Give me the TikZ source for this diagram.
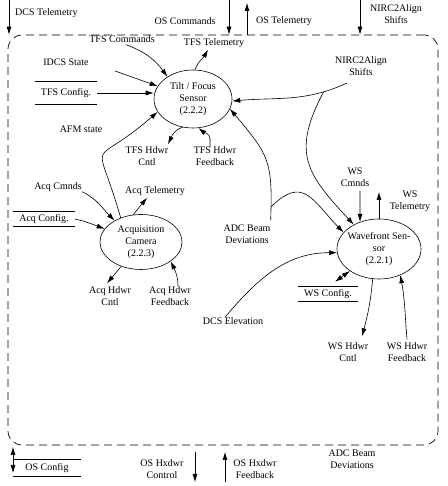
\documentclass[tikz,border=0pt]{standalone}
\usepackage{fontspec}
\setmainfont{Liberation Serif}
\usetikzlibrary{shapes.geometric, arrows.meta}
\tikzset{proc/.style={ellipse, draw=black, line width=0.6pt, inner sep=0pt, font={\fontsize{10}{12}\selectfont}, align=center},
        lab/.style={font={\fontsize{10}{12}\selectfont}, align=center, inner sep=0pt},
        store/.style={font={\fontsize{10}{12}\selectfont}, align=center, inner sep=0pt, minimum width=62pt},
        fl/.style={line width=0.6pt, -{Latex[length=8pt, width=5pt]}},
        bfl/.style={line width=0.6pt, {Latex[length=8pt, width=5pt]}-{Latex[length=8pt, width=5pt]}}}

\begin{document}
\begin{tikzpicture}[x=1pt, y=1pt]
    \useasboundingbox (0,0) rectangle (447,486);

    % context boundary
    \node[draw, line width=0.7pt, dash pattern=on 8pt off 5pt, rounded corners=14pt, minimum width=430pt, minimum height=410pt, inner sep=0pt] (ctx) at (223,246) {};

    % processes
    \node[proc, minimum width=78pt, minimum height=58pt] (tfs) at (193,387) {Tilt / Focus\\Sensor\\(2.2.2)};
    \node[proc, minimum width=82pt, minimum height=55pt] (acq) at (141,244) {Acquisition\\Camera\\(2.2.3)};
    \node[proc, minimum width=84pt, minimum height=60pt, inner xsep=-10pt] (ws) at (379,237) {Wavefront Sen-\\sor\\(2.2.1)};

    % flow labels
    \node[lab, anchor=west] (dcstel) at (15,473) {DCS Telemetry};
    \node[lab] (oscmd) at (185,465) {OS Commands};
    \node[lab] (ostel) at (284,465) {OS Telemetry};
    \node[lab] (nirout) at (396,472) {NIRC2Align\\Shifts};
    \node[lab] (tfscmd) at (122,447) {TFS Commands};
    \node[lab] (tfstel) at (214,443) {TFS Telemetry};
    \node[lab] (idcs) at (66,424) {IDCS State};
    \node[lab] (afm) at (81,357) {AFM state};
    \node[lab] (tfshc) at (147,330) {TFS Hdwr\\Cntl};
    \node[lab] (tfshf) at (215,330) {TFS Hdwr\\Feedback};
    \node[lab] (nirin) at (361,420) {NIRC2Align\\Shifts};
    \node[lab] (adc) at (247,252) {ADC Beam\\Deviations};
    \node[lab] (dcsel) at (233,165) {DCS Elevation};
    \node[lab] (acqcmd) at (58,299) {Acq Cmnds};
    \node[lab] (acqtel) at (155,295) {Acq Telemetry};
    \node[lab] (acqhc) at (110,190) {Acq Hdwr\\Cntl};
    \node[lab] (acqhf) at (170,190) {Acq Hdwr\\Feedback};
    \node[lab] (wscmd) at (355,309) {WS\\Cmnds};
    \node[lab] (wstel) at (410,285) {WS\\Telemetry};
    \node[lab] (wshc) at (348,134) {WS Hdwr\\Cntl};
    \node[lab] (wshf) at (407,134) {WS Hdwr\\Feedback};
    \node[lab] (oshc) at (162,17) {OS Hxdwr\\Control};
    \node[lab] (oshf) at (255,17) {OS Hxdwr\\Feedback};
    \node[lab] (adcout) at (352,27) {ADC Beam\\Deviations};

    % data stores
    \node[store, minimum height=22pt] (tfscfg) at (66,393) {TFS Config.};
    \node[store, minimum height=14pt, minimum width=61pt] (acqcfg) at (44,267) {Acq Config.};
    \node[store, minimum height=14pt, minimum width=60pt] (wscfg) at (328,192) {WS Config.};
    \node[store, minimum height=17pt, minimum width=68pt] (oscfg) at (47,18) {OS Config};
    \foreach \s in {tfscfg, acqcfg, wscfg, oscfg}
      \draw[line width=0.6pt] (\s.north west) -- (\s.north east) (\s.south west) -- (\s.south east);

    % free ends of the flows
    \coordinate (dcsA) at (9,486);
    \coordinate (oscA) at (229,486);
    \coordinate (ostA) at (247,483);
    \coordinate (nirA) at (360,486);
    \coordinate (idcsA) at (115,415);
    \coordinate (nirS) at (347,403);
    \coordinate (wstA) at (379,294);
    \coordinate (oscfgA) at (13,39);
    \coordinate (oscfgB) at (13,13);
    \coordinate (ohcA) at (195,34);
    \coordinate (ohcB) at (195,4);
    \coordinate (ohfA) at (225,4);
    \coordinate (ohfB) at (225,34);

    % flows across the boundary
    \foreach \c in {dcsA, oscA, nirA}
      \draw[fl] (\c) -- (\c |- ctx.north);
    \draw[fl] (ostA |- ctx.north) -- (ostA);
    \draw[bfl] (oscfgA) -- (oscfgB);
    \draw[fl] (ohcA) -- (ohcB);
    \draw[fl] (ohfA) -- (ohfB);

    % tilt / focus sensor
    \draw[fl] ([xshift=4pt,yshift=-2pt]tfscmd.south) to[out=-20,in=126] (tfs.139);
    \draw[fl] (tfs.86) to[out=70,in=-120] ([xshift=-6pt,yshift=-2pt]tfstel.south);
    \draw[fl] (idcsA) -- (tfs.160);
    \draw[fl] (tfscfg.east) -- (tfscfg.east -| tfs.west);
    \draw[fl] (acq.130) to[out=106,in=-139,looseness=2.1] (tfs.200);
    \draw[fl] (tfs.250) to[out=195,in=65] ([xshift=21pt,yshift=2pt]tfshc.north);
    \draw[fl] ([xshift=-5pt,yshift=-1pt]tfshf.north) -- ++(0,8) to[out=90,in=-40] (tfs.281);
    \draw[fl] (nirS) to[out=205,in=5] coordinate[pos=.2] (nirF) (tfs.357);
    \draw[fl] ([yshift=4pt]adc.north east) to[out=88,in=-50,looseness=1.3] coordinate[pos=.08] (adcF) (tfs.345);

    % wavefront sensor
    \draw[fl] (nirF) to[out=242,in=133,looseness=1.3] (ws.136);
    \draw[fl] (adcF) to[out=45,in=134,looseness=1.5] (ws.155);
    \draw[fl] ([xshift=-8pt]dcsel.north) to[out=50,in=180] (ws.185);
    \draw[fl] ([xshift=5pt,yshift=-4pt]wscmd.south) -- (ws.125);
    \draw[fl] (ws.north) -- (wstA);
    \draw[bfl] (ws.217) -- ([xshift=7pt,yshift=5pt]wscfg.north);
    \draw[fl] (ws.258) to[out=-95,in=75] ([xshift=14pt,yshift=6pt]wshc.north);
    \draw[fl] ([yshift=3pt]wshf.north) to[out=95,in=-79] (ws.309);

    % acquisition camera
    \draw[fl] (acqcmd.south east) to[out=-25,in=135] (acq.141);
    \draw[fl] (acq.106) -- ([xshift=-8pt,yshift=-2pt]acqtel.south);
    \draw[fl] (acqcfg.east) to[out=-12,in=160] (acq.160);
    \draw[fl] (acq.231) -- ([xshift=-3pt,yshift=3pt]acqhc.north);
    \draw[fl] ([xshift=8pt]acqhf.north) to[out=90,in=-65] (acq.327);
\end{tikzpicture}
\end{document}
